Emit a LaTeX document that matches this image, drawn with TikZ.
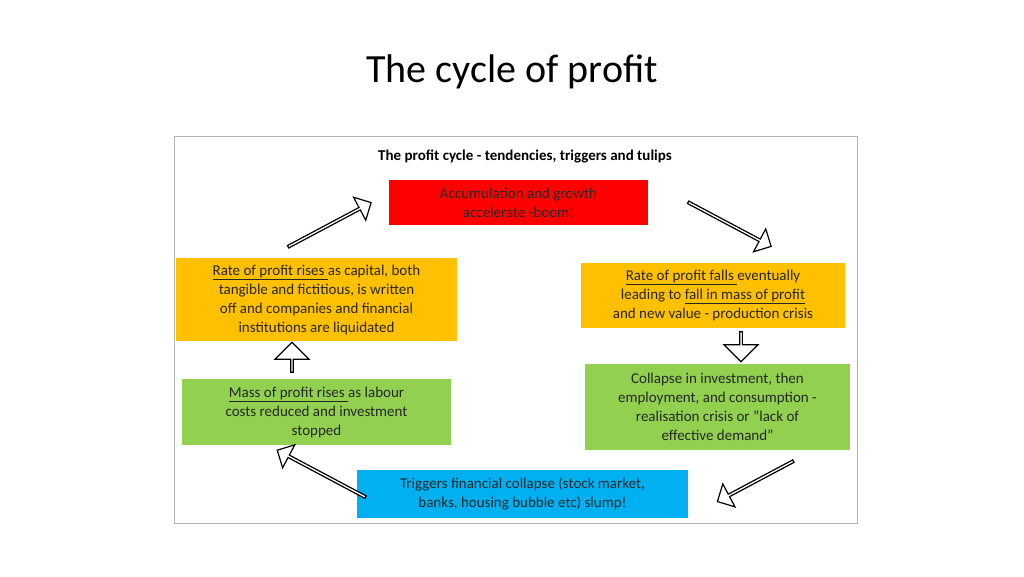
\documentclass[tikz,border=0pt]{standalone}
\usepackage{fontspec}
\setmainfont{Carlito}
\usetikzlibrary{shapes.arrows}
\definecolor{bred}{HTML}{FF0000}
\definecolor{borange}{HTML}{FFC000}
\definecolor{bgreen}{HTML}{92D050}
\definecolor{bblue}{HTML}{00B0F0}
\begin{document}
\begin{tikzpicture}[x=1pt,y=-1pt,
  box/.style={font=\fontsize{15}{19}\selectfont, align=center, inner sep=0pt, text=black!85},
  barrow/.style={draw=black, line width=1.2pt, fill=white, single arrow, minimum width=26pt, single arrow head extend=5pt, inner sep=0pt, single arrow head indent=0pt}]
\useasboundingbox (0,0) rectangle (1024,576);
\node (title) at (512,72) {\fontsize{40}{48}\selectfont The cycle of profit};
\draw[black!30, line width=0.8pt] (174,136) rectangle (857,523);
\node[font=\bfseries\fontsize{15}{18}\selectfont] (sub) at (525,156) {The profit cycle - tendencies, triggers and tulips};
\fill[bred] (389,180) rectangle (648,225);
\node[box] (acc) at (518.5,202.5) {Accumulation and growth\\accelerate -boom!};
\fill[borange] (176,258) rectangle (457,341);
\node[box] (rl) at (316.5,299.5) {\underline{Rate of profit rises }as capital, both\\tangible and fictitious, is written\\off and companies and financial\\institutions are liquidated};
\fill[borange] (581,263) rectangle (845,328);
\node[box] (rr) at (713,295.5) {\underline{Rate of profit falls }eventually\\leading to \underline{fall in mass of profit}\\and new value - production crisis};
\fill[bgreen] (182,379) rectangle (451,445);
\node[box] (ml) at (316.5,412) {\underline{Mass of profit rises }as labour\\costs reduced and investment\\stopped};
\fill[bgreen] (585,364) rectangle (850,450);
\node[box] (cr) at (717.5,407) {Collapse in investment, then\\employment, and consumption -\\realisation crisis or "lack of\\effective demand"};
\fill[bblue] (357,470) rectangle (688,518);
\node[box] (tr) at (522.5,494) {Triggers financial collapse (stock market,\\banks, housing bubble etc) slump!};
\node[barrow, minimum height=94pt, rotate=28] (a1) at (329,225) {};
\node[barrow, minimum height=94pt, rotate=-28] (a2) at (729,224) {};
\node[barrow, minimum height=30pt, minimum width=34pt, single arrow head extend=7pt, rotate=-90] (a3) at (741,346) {};
\node[barrow, minimum height=86pt, rotate=-152] (a4) at (756,481) {};
\node[barrow, minimum height=100pt, rotate=152] (a5) at (322,474) {};
\node[barrow, minimum height=30pt, minimum width=34pt, single arrow head extend=7pt, rotate=90] (a6) at (292,358) {};
\end{tikzpicture}
\end{document}
